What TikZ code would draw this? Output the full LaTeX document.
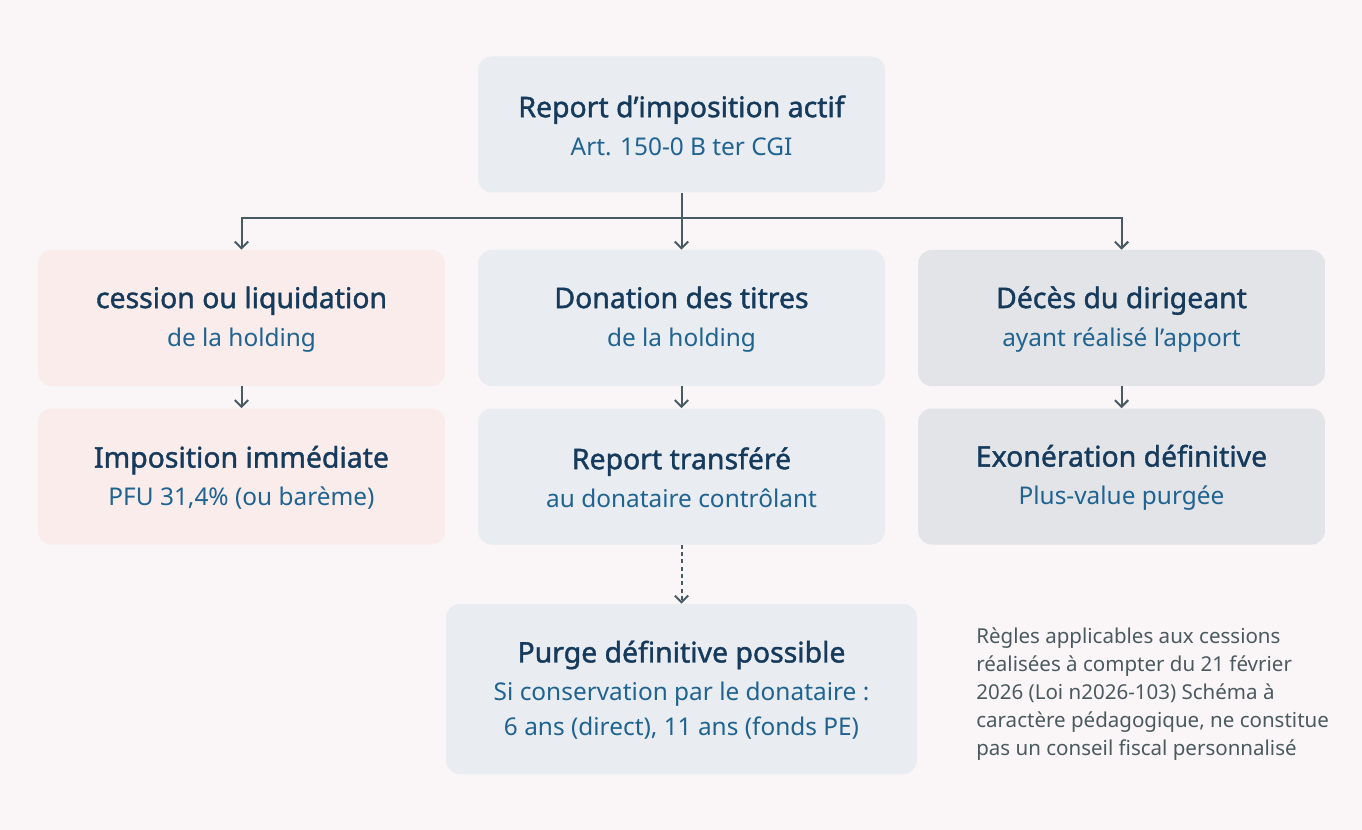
\documentclass[tikz,border=0pt]{standalone}
\usepackage{fontspec}
\setmainfont{Noto Sans}
\newfontfamily\titlefont{Noto Sans}[FakeBold=1.4]
\usetikzlibrary{arrows.meta}
\definecolor{bgcol}{HTML}{FAF6F7}
\definecolor{bluebox}{HTML}{E9ECF1}
\definecolor{pinkbox}{HTML}{F9ECEA}
\definecolor{greybox}{HTML}{E2E4E8}
\definecolor{titlecol}{HTML}{163A5C}
\definecolor{subcol}{HTML}{1F6391}
\definecolor{notecol}{HTML}{4B5A5E}
\definecolor{linecol}{HTML}{485A64}
\newcommand{\titletext}[1]{{\titlefont\fontsize{21.3}{24}\selectfont\color{titlecol}\rule[-6pt]{0pt}{24pt}#1}}
\newcommand{\subtext}[1]{{\fontsize{18.3}{26}\selectfont\color{subcol}\rule[-0.5pt]{0pt}{22pt}#1}}
\newcommand{\boxtext}[2]{\titletext{#1}\\\subtext{#2}}
\tikzset{
  flowbox/.style={rounded corners=10pt, inner sep=0pt, align=center, minimum width=305pt, minimum height=102pt},
  bluefill/.style={flowbox, fill=bluebox},
  pinkfill/.style={flowbox, fill=pinkbox},
  greyfill/.style={flowbox, fill=greybox},
  flowarrow/.style={draw=linecol, line width=1.5pt, -{Straight Barb[length=5pt,width=10pt,line width=1.5pt]}},
}
\begin{document}
\begin{tikzpicture}[x=0.75pt, y=-0.75pt]
    \fill[bgcol] (0,0) rectangle (1362,830);
    \useasboundingbox (0,0) rectangle (1362,830);
    % top
    \node[bluefill] (report) at (681.5,124.5) {\boxtext{Report d’imposition actif}{Art. 150-0 B ter CGI}};
    % row1
    \node[pinkfill] (cession) at (241.5,318) {\boxtext{cession ou liquidation}{de la holding}};
    \node[bluefill] (donation) at (681.5,318) {\boxtext{Donation des titres}{de la holding}};
    \node[greyfill] (deces) at (1121.5,318) {\boxtext{Décès du dirigeant}{ayant réalisé l’apport}};
    % row2
    \node[pinkfill] (imposition) at (241.5,476.5) {\boxtext{Imposition immédiate}{PFU 31,4\% (ou barème)}};
    \node[bluefill] (transfere) at (681.5,476.5) {\boxtext{Report transféré}{au donataire contrôlant}};
    \node[greyfill] (exoneration) at (1121.5,476.5) {\boxtext{Exonération définitive}{Plus-value purgée}};
    % row3
    \node[bluefill, minimum width=353pt, minimum height=127.5pt] (purge) at (681.5,689) {\titletext{Purge définitive possible}\\\subtext{Si conservation par le donataire :}\\[-0.5pt]\subtext{6 ans (direct), 11 ans (fonds PE)}};
    \node[anchor=north west, align=left, inner sep=0pt, text=notecol, font=\fontsize{15.4}{21}\selectfont] (note) at (976,627) {Règles applicables aux cessions\\ réalisées à compter du 21 février\\ 2026 (Loi n2026-103) Schéma à\\ caractère pédagogique, ne constitue\\ pas un conseil fiscal personnalisé};
    % connectors
    \coordinate (split) at (681.5,218);
    \draw[flowarrow] (report) -- (donation);
    \draw[flowarrow] (split) -| (cession);
    \draw[flowarrow] (split) -| (deces);
    \draw[flowarrow] (cession) -- (imposition);
    \draw[flowarrow] (donation) -- (transfere);
    \draw[flowarrow] (deces) -- (exoneration);
    \draw[flowarrow, dash pattern=on 3pt off 2.5pt] (transfere) -- (purge);
\end{tikzpicture}
\end{document}
